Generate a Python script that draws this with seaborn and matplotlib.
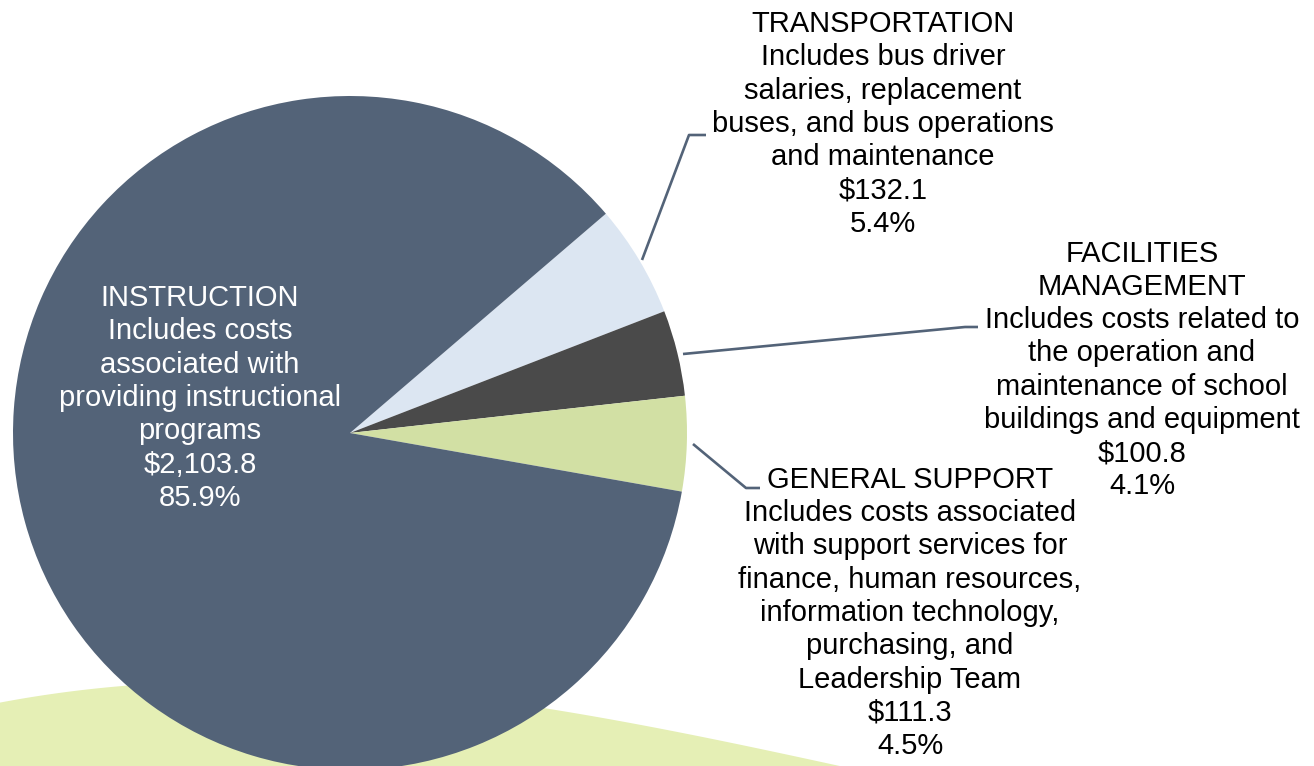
import numpy as np
import matplotlib
matplotlib.use("Agg")
import matplotlib.pyplot as plt
import seaborn as sns

# ---- data ----
categories = ["TRANSPORTATION", "FACILITIES\nMANAGEMENT", "GENERAL SUPPORT", "INSTRUCTION"]
descriptions = [
    "Includes bus driver\nsalaries, replacement\nbuses, and bus operations\nand maintenance",
    "Includes costs related to\nthe operation and\nmaintenance of school\nbuildings and equipment",
    "Includes costs associated\nwith support services for\nfinance, human resources,\ninformation technology,\npurchasing, and\nLeadership Team",
    "Includes costs\nassociated with\nproviding instructional\nprograms",
]
amounts = [132.1, 100.8, 111.3, 2103.8]
amount_labels = ["$132.1", "$100.8", "$111.3", "$2,103.8"]
percent_labels = ["5.4%", "4.1%", "4.5%", "85.9%"]
colors = ["#DCE6F2", "#4A4A4A", "#D2E0A4", "#536378"]

sns.set_theme(style="white")
plt.rcParams["font.family"] = ["Liberation Sans", "DejaVu Sans"]

W, H = 1314, 766
fig = plt.figure(figsize=(W / 100, H / 100), dpi=100)
ax = fig.add_axes([0, 0, 1, 1])

# decorative green swoosh in the background (pixel coords, y flipped)
px = np.array([0, 128, 546, 800])
py = np.array([702, 685, 708, 757])
coef = np.polyfit(px, py, 3)
xs = np.linspace(-10, 900, 400)
ys = np.polyval(coef, xs)
ax.fill_between(xs, H - ys, -10, color="#E5EFB5", zorder=0, linewidth=0)

cx, cy, r = 350, H - 433, 337
wedges, _ = ax.pie(amounts, colors=colors, startangle=40.6, counterclock=False,
                   center=(cx, cy), radius=r, wedgeprops=dict(linewidth=0))
for w in wedges:
    w.set_zorder(2)

ax.set_xlim(0, W)
ax.set_ylim(0, H)
ax.set_aspect("equal")
ax.axis("off")

fs = 21
ls = 1.24
texts = ["\n".join([c, d, a, p]) for c, d, a, p in zip(categories, descriptions, amount_labels, percent_labels)]
positions = [(883, H - 124), (1142, H - 370), (910, H - 613), (200, H - 398)]
tcolors = ["black", "black", "black", "white"]
for t, (x, y), c in zip(texts, positions, tcolors):
    ax.text(x, y, t, ha="center", va="center", multialignment="center",
            fontsize=fs, color=c, linespacing=ls, zorder=5)

# leader lines (pixel coords)
leaders = [
    [(642, 260), (689, 135), (706, 135)],
    [(683, 354), (965, 327), (978, 327)],
    [(693, 444), (746, 488), (760, 488)],
]
for pts in leaders:
    xs_, ys_ = zip(*pts)
    ax.plot(xs_, [H - v for v in ys_], color="#536378", linewidth=1.9, zorder=4,
            solid_capstyle="butt")

fig.savefig("out.png", dpi=100)
